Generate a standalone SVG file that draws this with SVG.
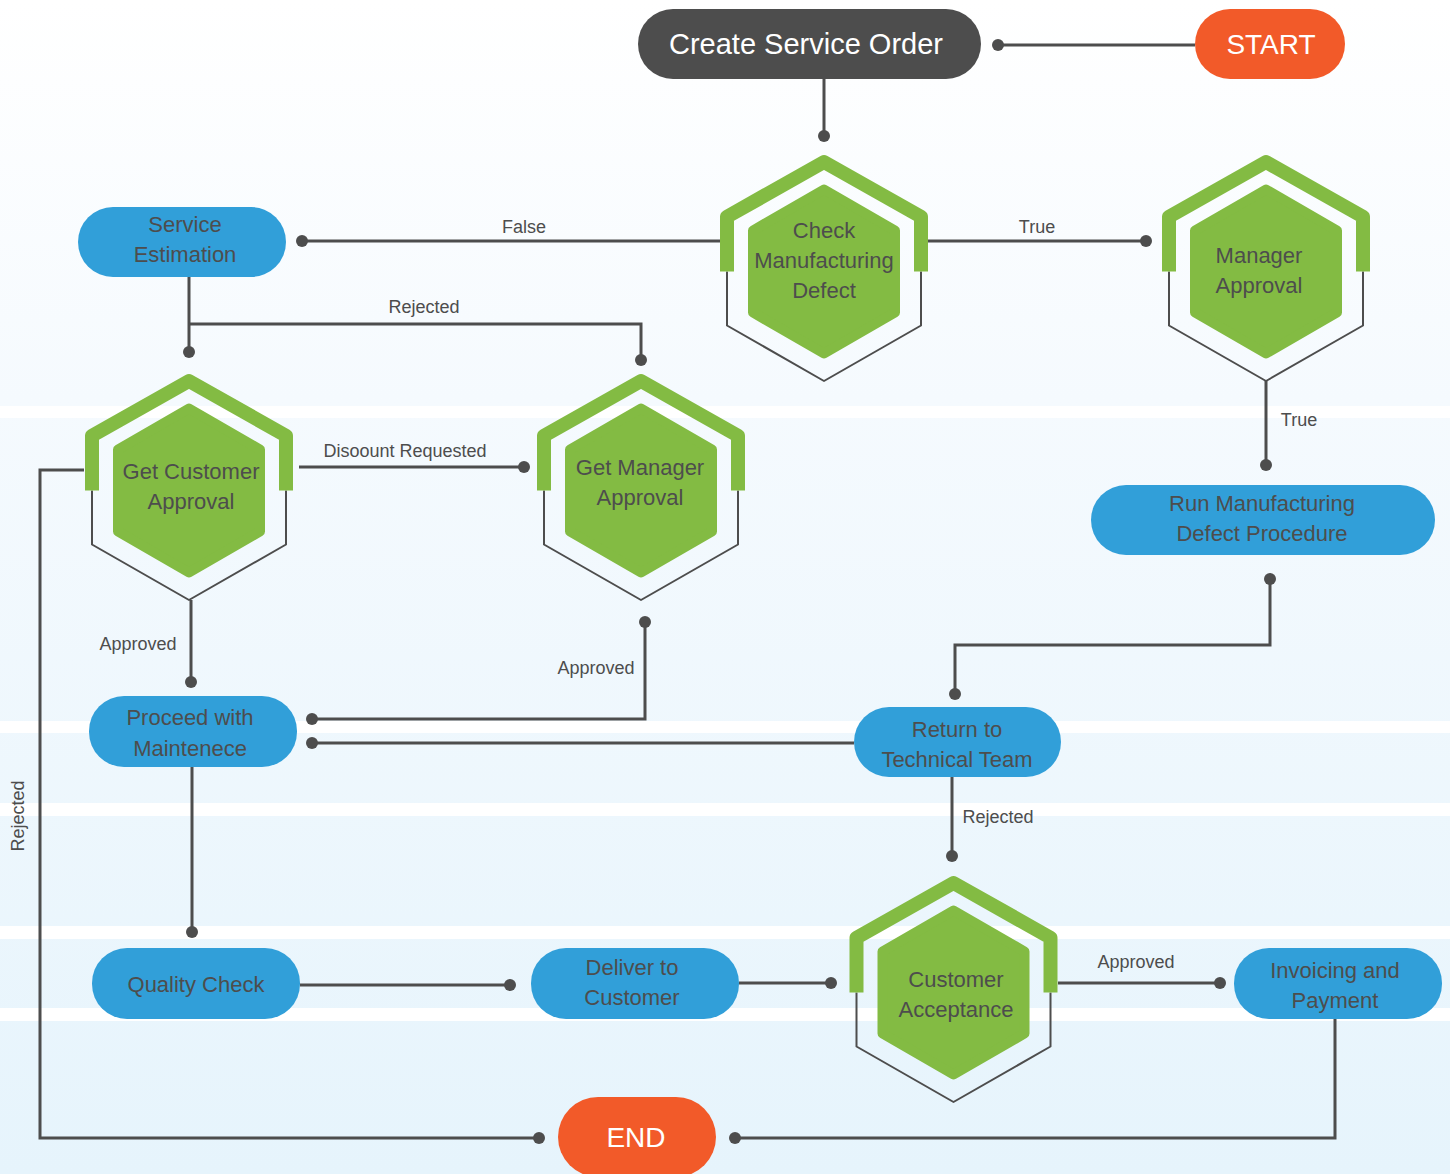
<svg xmlns="http://www.w3.org/2000/svg" xmlns:xlink="http://www.w3.org/1999/xlink" width="1450" height="1174" viewBox="0 0 1450 1174">
  <defs>
    <linearGradient id="bg" x1="0" y1="0" x2="0" y2="1174" gradientUnits="userSpaceOnUse">
      <stop offset="0" stop-color="#ffffff"/>
      <stop offset="0.34" stop-color="#f5fafe"/>
      <stop offset="1" stop-color="#e6f4fc"/>
    </linearGradient>
    <g id="hexShape">
      <path class="hexOutline" d="M -97 0 L -97 54 L 0 109.5 L 97 54 L 97 0"/>
      <path class="hexCap" d="M -97 0 L -97 -54.75 L 0 -109.5 L 97 -54.75 L 97 0"/>
      <polygon class="hexInner" points="0,-82 71,-41 71,41 0,82 -71,41 -71,-41"/>
    </g>
  </defs>
  <style>
    .hexOutline { fill: none; stroke: #4d4d4d; stroke-width: 2; stroke-linejoin: round; }
    .hexCap { fill: none; stroke: #83bb43; stroke-width: 14; stroke-linejoin: round; stroke-linecap: butt; }
    .hexInner { fill: #83bb43; stroke: #83bb43; stroke-width: 10; stroke-linejoin: round; }
    .blue { fill: #319fd9; }
    .dark { fill: #4d4d4d; }
    .orange { fill: #f25a29; }
    .t { font-family: "Liberation Sans", Arial, sans-serif; font-size: 22px; fill: #4d4d4d; text-anchor: middle; }
    .tw { font-family: "Liberation Sans", Arial, sans-serif; fill: #ffffff; text-anchor: middle; }
    .lbl { font-family: "Liberation Sans", Arial, sans-serif; font-size: 18px; fill: #4d4d4d; text-anchor: middle; }
    .edge { fill: none; stroke: #4d4d4d; stroke-width: 3; }
    .dot { fill: #4d4d4d; }
    .stripe { fill: #ffffff; }
  </style>

  <g id="background">
    <rect x="0" y="0" width="1450" height="1174" fill="url(#bg)"/>
    <rect class="stripe" x="0" y="406" width="1450" height="12"/>
    <rect class="stripe" x="0" y="721" width="1450" height="12"/>
    <rect class="stripe" x="0" y="803" width="1450" height="13"/>
    <rect class="stripe" x="0" y="926" width="1450" height="13"/>
    <rect class="stripe" x="0" y="1008" width="1450" height="13"/>
  </g>

  <g id="connectors">
    <!-- START -> Create Service Order -->
    <path class="edge" d="M 1195 45 L 998 45"/>
    <circle class="dot" cx="998" cy="45" r="6"/>
    <!-- Create Service Order -> Check -->
    <path class="edge" d="M 824 79 L 824 136"/>
    <circle class="dot" cx="824" cy="136" r="6"/>
    <!-- Check -> Service Estimation (False) -->
    <path class="edge" d="M 720 241 L 302 241"/>
    <circle class="dot" cx="302" cy="241" r="6"/>
    <text class="lbl" x="524" y="233">False</text>
    <!-- Check -> Manager Approval (True) -->
    <path class="edge" d="M 928 241 L 1146 241"/>
    <circle class="dot" cx="1146" cy="241" r="6"/>
    <text class="lbl" x="1037" y="233">True</text>
    <!-- Manager Approval -> Run Manufacturing (True) -->
    <path class="edge" d="M 1266 381 L 1266 465"/>
    <circle class="dot" cx="1266" cy="465" r="6"/>
    <text class="lbl" x="1299" y="426">True</text>
    <!-- Service Estimation -> Get Customer Approval -->
    <path class="edge" d="M 189 277 L 189 352"/>
    <circle class="dot" cx="189" cy="352" r="6"/>
    <!-- Rejected branch -->
    <path class="edge" d="M 189 324 L 641 324 L 641 360"/>
    <circle class="dot" cx="641" cy="360" r="6"/>
    <text class="lbl" x="424" y="313">Rejected</text>
    <!-- Get Customer Approval -> Get Manager Approval -->
    <path class="edge" d="M 299 467 L 524 467"/>
    <circle class="dot" cx="524" cy="467" r="6"/>
    <text class="lbl" x="405" y="457">Disoount Requested</text>
    <!-- Get Customer Approval -> Proceed (Approved) -->
    <path class="edge" d="M 191 600 L 191 682"/>
    <circle class="dot" cx="191" cy="682" r="6"/>
    <text class="lbl" x="138" y="650">Approved</text>
    <!-- Get Manager Approval -> Proceed (Approved) -->
    <path class="edge" d="M 645 622 L 645 719 L 312 719"/>
    <circle class="dot" cx="645" cy="622" r="6"/>
    <circle class="dot" cx="312" cy="719" r="6"/>
    <text class="lbl" x="596" y="674">Approved</text>
    <!-- Return to Technical Team -> Proceed -->
    <path class="edge" d="M 854 743 L 312 743"/>
    <circle class="dot" cx="312" cy="743" r="6"/>
    <!-- Run Manufacturing -> Return to Technical Team -->
    <path class="edge" d="M 1270 579 L 1270 645 L 955 645 L 955 694"/>
    <circle class="dot" cx="1270" cy="579" r="6"/>
    <circle class="dot" cx="955" cy="694" r="6"/>
    <!-- Return -> Customer Acceptance (Rejected) -->
    <path class="edge" d="M 952 777 L 952 856"/>
    <circle class="dot" cx="952" cy="856" r="6"/>
    <text class="lbl" x="998" y="823">Rejected</text>
    <!-- Proceed -> Quality Check -->
    <path class="edge" d="M 192 767 L 192 932"/>
    <circle class="dot" cx="192" cy="932" r="6"/>
    <!-- Quality Check -> Deliver -->
    <path class="edge" d="M 300 985 L 510 985"/>
    <circle class="dot" cx="510" cy="985" r="6"/>
    <!-- Deliver -> Customer Acceptance -->
    <path class="edge" d="M 739 983 L 831 983"/>
    <circle class="dot" cx="831" cy="983" r="6"/>
    <!-- Customer Acceptance -> Invoicing (Approved) -->
    <path class="edge" d="M 1058 983 L 1220 983"/>
    <circle class="dot" cx="1220" cy="983" r="6"/>
    <text class="lbl" x="1136" y="968">Approved</text>
    <!-- Invoicing -> END -->
    <path class="edge" d="M 1335 1019 L 1335 1138 L 735 1138"/>
    <circle class="dot" cx="735" cy="1138" r="6"/>
    <!-- Get Customer Approval -> END (Rejected) -->
    <path class="edge" d="M 84 470 L 40 470 L 40 1138 L 539 1138"/>
    <circle class="dot" cx="539" cy="1138" r="6"/>
    <text class="lbl" transform="translate(24,816) rotate(-90)" x="0" y="0">Rejected</text>
  </g>

  <g id="node-start">
    <rect class="orange" x="1195" y="9" width="150" height="70" rx="35"/>
    <text class="tw" x="1271" y="54" font-size="28">START</text>
  </g>

  <g id="node-create-service-order">
    <rect class="dark" x="638" y="9" width="343" height="70" rx="35"/>
    <text class="tw" x="806" y="54" font-size="29">Create Service Order</text>
  </g>

  <g id="node-check-manufacturing-defect">
    <use xlink:href="#hexShape" href="#hexShape" transform="translate(824,271.5)"/>
    <text class="t" x="824" y="238">Check</text>
    <text class="t" x="824" y="268">Manufacturing</text>
    <text class="t" x="824" y="298">Defect</text>
  </g>

  <g id="node-manager-approval">
    <use xlink:href="#hexShape" href="#hexShape" transform="translate(1266,271.5)"/>
    <text class="t" x="1259" y="263">Manager</text>
    <text class="t" x="1259" y="293">Approval</text>
  </g>

  <g id="node-service-estimation">
    <rect class="blue" x="78" y="207" width="208" height="70" rx="35"/>
    <text class="t" x="185" y="232">Service</text>
    <text class="t" x="185" y="262">Estimation</text>
  </g>

  <g id="node-get-customer-approval">
    <use xlink:href="#hexShape" href="#hexShape" transform="translate(189,490.5)"/>
    <text class="t" x="191" y="479">Get Customer</text>
    <text class="t" x="191" y="509">Approval</text>
  </g>

  <g id="node-get-manager-approval">
    <use xlink:href="#hexShape" href="#hexShape" transform="translate(641,490.5)"/>
    <text class="t" x="640" y="475">Get Manager</text>
    <text class="t" x="640" y="505">Approval</text>
  </g>

  <g id="node-run-manufacturing-defect-procedure">
    <rect class="blue" x="1091" y="485" width="344" height="70" rx="35"/>
    <text class="t" x="1262" y="511">Run Manufacturing</text>
    <text class="t" x="1262" y="541">Defect Procedure</text>
  </g>

  <g id="node-proceed-with-maintenece">
    <rect class="blue" x="89" y="696" width="208" height="71" rx="35"/>
    <text class="t" x="190" y="725">Proceed with</text>
    <text class="t" x="190" y="756">Maintenece</text>
  </g>

  <g id="node-return-to-technical-team">
    <rect class="blue" x="854" y="707" width="207" height="70" rx="35"/>
    <text class="t" x="957" y="737">Return to</text>
    <text class="t" x="957" y="767">Technical Team</text>
  </g>

  <g id="node-quality-check">
    <rect class="blue" x="92" y="948" width="208" height="71" rx="35"/>
    <text class="t" x="196" y="992">Quality Check</text>
  </g>

  <g id="node-deliver-to-customer">
    <rect class="blue" x="531" y="948" width="208" height="71" rx="35"/>
    <text class="t" x="632" y="975">Deliver to</text>
    <text class="t" x="632" y="1005">Customer</text>
  </g>

  <g id="node-customer-acceptance">
    <use xlink:href="#hexShape" href="#hexShape" transform="translate(953.5,992.5)"/>
    <text class="t" x="956" y="987">Customer</text>
    <text class="t" x="956" y="1017">Acceptance</text>
  </g>

  <g id="node-invoicing-and-payment">
    <rect class="blue" x="1234" y="948" width="208" height="71" rx="35"/>
    <text class="t" x="1335" y="978">Invoicing and</text>
    <text class="t" x="1335" y="1008">Payment</text>
  </g>

  <g id="node-end">
    <rect class="orange" x="558" y="1097" width="158" height="80" rx="40"/>
    <text class="tw" x="636" y="1147" font-size="28">END</text>
  </g>
</svg>
